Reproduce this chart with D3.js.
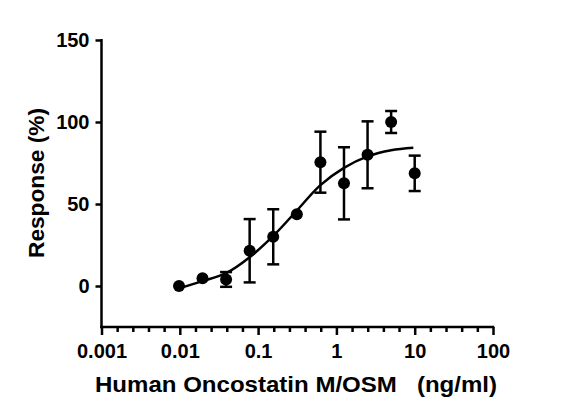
<!DOCTYPE html>
<html>
<head>
<meta charset="utf-8">
<script src="https://cdn.jsdelivr.net/npm/d3@7"></script>
<style>
  body { margin: 0; background: #fff; }
  svg text { font-family: "Liberation Sans", Arial, sans-serif; font-weight: bold; fill: #000; }
</style>
</head>
<body>
<svg id="plot" width="562" height="420"></svg>
<script>
// doses (ng/ml), mean response (%) and error
let doses = [0.00977, 0.0195, 0.039, 0.078, 0.156, 0.3125, 0.625, 1.25, 2.5, 5, 10];
let response = [0, 4.7, 4, 21.5, 30, 43.7, 75.5, 62.6, 80, 100, 68.7];
let errors = [0, 0.8, 4.5, 19.3, 16.8, 1, 18.6, 22, 20.4, 6.7, 10.8];

// fitted curve as seen in the picture
let curveX = [0.0105, 0.0195, 0.039, 0.078, 0.156, 0.3125, 0.625, 1.25, 2.5, 5, 9.6];
let curveY = [-1, 3, 7.8, 17.5, 30.5, 46, 61.5, 72, 79, 82.8, 84.3];

let xTicks = [0.001, 0.01, 0.1, 1, 10, 100];
let xTickLabels = ["0.001", "0.01", "0.1", "1", "10", "100"];
let yTicks = [0, 50, 100, 150];

let margin = {top: 40, right: 70, bottom: 93, left: 101.5};
let width = 562, height = 420;

let svg = d3.select("#plot");

let x = d3.scaleLog()
    .domain([0.001, 100])
    .range([margin.left, width - margin.right + 1]);

let y = d3.scaleLinear()
    .domain([-25, 150])
    .range([height - margin.bottom, margin.top]);

// minor ticks: four evenly spaced per decade
let minorTicks = [];
xTicks.slice(0, -1).forEach(t => {
  [0.2, 0.4, 0.6, 0.8].forEach(f => minorTicks.push(t * Math.pow(10, f)));
});

let xAxis = g => g
    .attr("transform", `translate(0, ${y(-25)})`)
    .call(d3.axisBottom(x)
            .tickValues(xTicks)
            .tickFormat((d, i) => xTickLabels[i])
            .tickSize(8)
            .tickPadding(9))
    .call(g => g.select(".domain").attr("d", `M${x(0.001) - 1.25},0H${x(100) + 1.25}`))
    .call(g => g.selectAll("line, path").attr("stroke", "#000").attr("stroke-width", 2.5))
    .call(g => g.selectAll(".tick text").attr("font-size", 20).attr("dy", "0.71em"));

let xMinor = g => g
    .attr("transform", `translate(0, ${y(-25)})`)
    .call(d3.axisBottom(x)
            .tickValues(minorTicks)
            .tickFormat("")
            .tickSize(5))
    .call(g => g.select(".domain").remove())
    .call(g => g.selectAll("line").attr("stroke", "#000").attr("stroke-width", 2.5));

let yAxis = g => g
    .attr("transform", `translate(${x(0.001)}, 0)`)
    .call(d3.axisLeft(y)
            .tickValues(yTicks)
            .tickSize(6)
            .tickPadding(6))
    .call(g => g.select(".domain").attr("d", `M0,${y(150) - 1}V${y(-25) + 1.25}`))
    .call(g => g.selectAll("line, path").attr("stroke", "#000").attr("stroke-width", 2.5))
    .call(g => g.selectAll(".tick text").attr("font-size", 20));

svg.append("g").call(xMinor);
svg.append("g").call(xAxis);
svg.append("g").call(yAxis);

// fitted curve
let line = d3.line()
    .x((d, i) => x(curveX[i]))
    .y(d => y(d))
    .curve(d3.curveCatmullRom);

svg.append("path")
    .attr("d", line(curveY))
    .attr("fill", "none")
    .attr("stroke", "#000")
    .attr("stroke-width", 2.5);

// error bars
let bars = svg.append("g")
    .attr("stroke", "#000")
    .attr("stroke-width", 2.5);

doses.forEach((d, i) => {
  if (errors[i] <= 1) return;
  let cx = x(d);
  let top = y(response[i] + errors[i]);
  let bottom = y(response[i] - errors[i]);
  bars.append("line").attr("x1", cx).attr("x2", cx).attr("y1", top).attr("y2", bottom);
  bars.append("line").attr("x1", cx - 6).attr("x2", cx + 6).attr("y1", top).attr("y2", top);
  bars.append("line").attr("x1", cx - 6).attr("x2", cx + 6).attr("y1", bottom).attr("y2", bottom);
});

// points
svg.append("g")
  .selectAll("circle")
  .data(doses)
  .join("circle")
    .attr("cx", d => x(d))
    .attr("cy", (d, i) => y(response[i]))
    .attr("r", 6)
    .attr("fill", "#000");

// axis titles
svg.append("text")
    .attr("x", 296)
    .attr("y", 392)
    .attr("text-anchor", "middle")
    .attr("font-size", 22)
    .attr("textLength", 402)
    .attr("lengthAdjust", "spacingAndGlyphs")
    .style("white-space", "pre")
    .text("Human Oncostatin M/OSM   (ng/ml)");

svg.append("text")
    .attr("transform", "translate(44, 183) rotate(-90)")
    .attr("text-anchor", "middle")
    .attr("font-size", 22)
    .attr("textLength", 150)
    .attr("lengthAdjust", "spacingAndGlyphs")
    .text("Response (%)");
</script>
</body>
</html>
